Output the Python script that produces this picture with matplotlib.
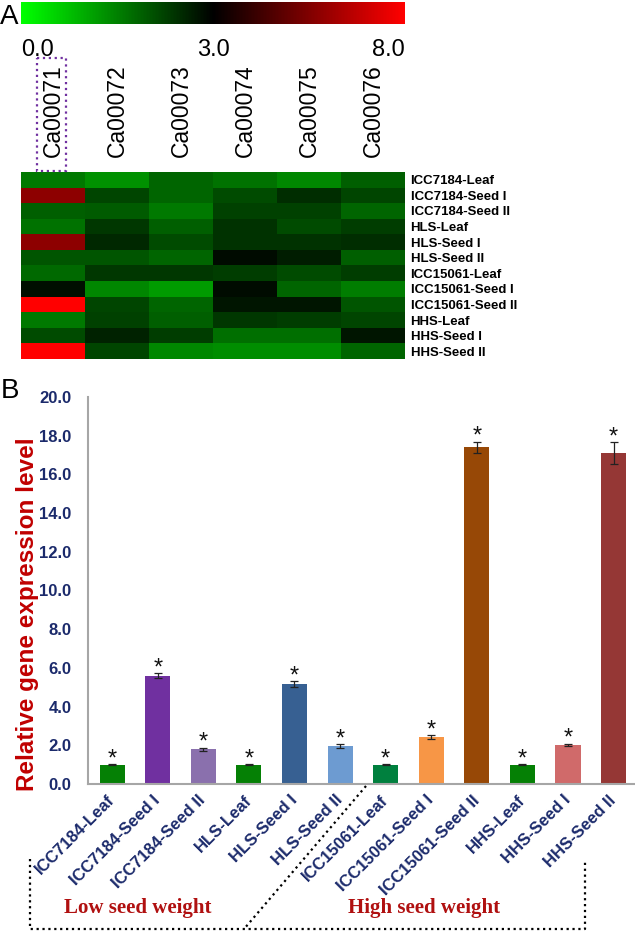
import matplotlib
matplotlib.use("Agg")
import matplotlib.pyplot as plt
import numpy as np
from matplotlib.colors import LinearSegmentedColormap, TwoSlopeNorm
from matplotlib.patches import Rectangle

plt.rcParams["font.family"] = ["Liberation Sans", "DejaVu Sans"]

# ---- panel A: heatmap data ----
GENES = ["Ca00071", "Ca00072", "Ca00073", "Ca00074", "Ca00075", "Ca00076"]
TISSUES = [
    "ICC7184-Leaf", "ICC7184-Seed I", "ICC7184-Seed II",
    "HLS-Leaf", "HLS-Seed I", "HLS-Seed II",
    "ICC15061-Leaf", "ICC15061-Seed I", "ICC15061-Seed II",
    "HHS-Leaf", "HHS-Seed I", "HHS-Seed II",
]
HEAT = [
    [1.59, 1.29, 1.82, 1.65, 1.41, 1.88],
    [5.75, 2.18, 1.82, 2.12, 2.47, 2.18],
    [1.88, 1.94, 1.59, 2.24, 2.24, 1.82],
    [1.65, 2.35, 1.88, 2.41, 2.12, 2.29],
    [5.75, 2.53, 2.12, 2.41, 2.41, 2.47],
    [2.00, 2.00, 1.82, 2.88, 2.65, 1.88],
    [1.76, 2.35, 2.35, 2.29, 2.12, 2.29],
    [2.82, 1.41, 1.18, 2.88, 1.82, 1.53],
    [8.00, 2.18, 1.82, 2.76, 2.76, 2.00],
    [1.59, 2.24, 1.88, 2.35, 2.29, 2.18],
    [2.12, 2.59, 2.29, 1.71, 1.71, 2.76],
    [8.00, 2.18, 1.41, 1.35, 1.35, 1.82],
]
CBAR_TICKS = [0.0, 3.0, 8.0]

# ---- panel B: qRT-PCR bars ----
BAR_LABELS = TISSUES
BAR_VALUES = [1.0, 5.6, 1.8, 1.0, 5.15, 1.95, 1.0, 2.45, 17.4, 1.0, 2.02, 17.1]
BAR_ERRORS = [0.02, 0.12, 0.08, 0.02, 0.15, 0.1, 0.02, 0.1, 0.3, 0.02, 0.07, 0.55]
BAR_COLORS = [
    "#058005", "#7030a0", "#8a70ad", "#058005", "#376092", "#6d9bd1",
    "#00803e", "#f79646", "#974806", "#058005", "#d06a6a", "#953735",
]
Y_TICKS = np.arange(0, 20.1, 2.0)

NAVY = "#1b2a6b"
DARK_RED = "#c00000"

W, H = 635, 934
fig = plt.figure(figsize=(W / 100, H / 100), dpi=100)


def px_axes(x0, y0, x1, y1):
    return fig.add_axes([x0 / W, 1 - y1 / H, (x1 - x0) / W, (y1 - y0) / H])


# heatmap
cmap = LinearSegmentedColormap.from_list("gkr", ["#00ff00", "#000000", "#ff0000"])
norm = TwoSlopeNorm(vmin=0, vcenter=3, vmax=8)

ax_h = px_axes(21, 172, 405, 359)
im = ax_h.imshow(np.array(HEAT), cmap=cmap, norm=norm, aspect="auto",
                 interpolation="nearest")
ax_h.set_xticks(range(len(GENES)))
ax_h.set_xticklabels(GENES, rotation=90, fontsize=16.5, va="bottom")
ax_h.xaxis.tick_top()
ax_h.set_yticks(range(len(TISSUES)))
ax_h.set_yticklabels(TISSUES, fontsize=9.5, fontweight="bold")
ax_h.yaxis.tick_right()
ax_h.tick_params(length=0, pad=4)
ax_h.tick_params(axis="x", pad=11)
for s in ax_h.spines.values():
    s.set_visible(False)

# colour bar
cax = px_axes(21, 2, 405, 24)
cb = fig.colorbar(im, cax=cax, orientation="horizontal")
cb.outline.set_visible(False)
cb.set_ticks(CBAR_TICKS)
cb.set_ticklabels([f"{t:.1f}" for t in CBAR_TICKS])
cax.tick_params(length=0, pad=11, labelsize=17)
for lbl, ha in zip(cax.get_xticklabels(), ["left", "center", "right"]):
    lbl.set_horizontalalignment(ha)

# bar chart
ax_b = px_axes(88, 397, 635, 784)
x = np.arange(len(BAR_VALUES))
ax_b.bar(x, BAR_VALUES, width=0.55, color=BAR_COLORS, yerr=BAR_ERRORS,
         error_kw=dict(ecolor="#222222", elinewidth=0.9, capsize=3, capthick=0.9))
for xi, v, e in zip(x, BAR_VALUES, BAR_ERRORS):
    ax_b.annotate("*", (xi, v + e), xytext=(0, -1), textcoords="offset points",
                  ha="center", va="baseline", fontsize=17, color="#111111")
ax_b.set_xlim(-0.53, len(BAR_VALUES) - 0.53)
ax_b.set_ylim(0, 20)
ax_b.set_yticks(Y_TICKS)
ax_b.set_yticklabels([f"{t:.1f}" for t in Y_TICKS], fontsize=12,
                     fontweight="bold", color=NAVY)
ax_b.set_xticks(x)
ax_b.set_xticklabels(BAR_LABELS, rotation=45, ha="right", va="center",
                     rotation_mode="anchor", fontsize=12, fontweight="bold",
                     color=NAVY)
ax_b.tick_params(length=0)
ax_b.tick_params(axis="y", pad=12)
ax_b.tick_params(axis="x", pad=10)
for side in ["top", "right"]:
    ax_b.spines[side].set_visible(False)
for side in ["left", "bottom"]:
    ax_b.spines[side].set_color("#a6a6a6")
    ax_b.spines[side].set_linewidth(1.5)
ax_b.set_ylabel("Relative gene expression level", fontsize=17.5,
                fontweight="bold", color=DARK_RED)
ax_b.yaxis.set_label_coords(-0.09, 0.44)

# overlay for panel letters, highlight box and group bracket
ov = fig.add_axes([0, 0, 1, 1], zorder=10)
ov.set_xlim(0, W)
ov.set_ylim(H, 0)
ov.axis("off")
ov.patch.set_alpha(0)

ov.text(9, 17, "A", fontsize=20, ha="center", va="center")
ov.text(10, 391, "B", fontsize=20, ha="center", va="center")
ov.add_patch(Rectangle((37, 58), 29, 113, fill=False, edgecolor="#7030a0",
                       linestyle=":", linewidth=1.6))

dot = dict(color="black", linestyle=":", linewidth=1.6)
ov.plot([30, 30, 585, 585], [859, 929, 929, 860], **dot)
ov.plot([366, 244], [786, 929], **dot)
serif = ["Liberation Serif", "DejaVu Serif"]
ov.text(138, 908, "Low seed weight", family=serif, fontsize=15,
        fontweight="bold", color="#b01010", ha="center", va="center")
ov.text(424, 908, "High seed weight", family=serif, fontsize=15,
        fontweight="bold", color="#b01010", ha="center", va="center")

fig.savefig("out.png", dpi=100)
